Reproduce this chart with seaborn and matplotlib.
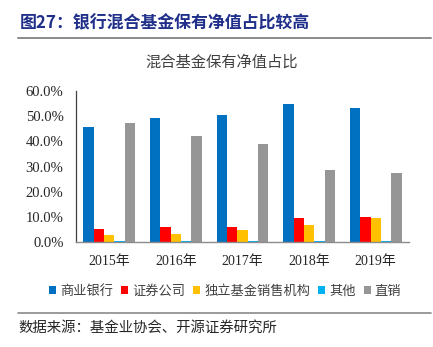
import matplotlib
matplotlib.use("Agg")
import matplotlib.pyplot as plt
import seaborn as sns
import pandas as pd
from matplotlib.patches import Patch
from matplotlib.lines import Line2D
from matplotlib.ticker import FuncFormatter, FixedLocator

years = ["2015年", "2016年", "2017年", "2018年", "2019年"]
channels = ["商业银行", "证券公司", "独立基金销售机构", "其他", "直销"]
bank = [45.7, 49.3, 50.5, 54.8, 53.1]
securities = [5.0, 5.8, 6.1, 9.5, 9.9]
independent = [2.6, 3.2, 4.6, 6.9, 9.5]
others = [0.3, 0.3, 0.3, 0.3, 0.3]
direct = [47.3, 42.3, 39.1, 28.8, 27.6]
colors = ["#0070C0", "#FF0000", "#FFC000", "#00B0F0", "#969696"]

series = [bank, securities, independent, others, direct]
rows = []
for ch, vals in zip(channels, series):
    for y, v in zip(years, vals):
        rows.append({"year": y, "channel": ch, "value": v / 100})
df = pd.DataFrame(rows)

sns.set_style("white")
plt.rcParams["font.family"] = ["Liberation Serif", "Noto Sans CJK SC", "DejaVu Sans"]
cjk = ["Noto Sans CJK SC", "DejaVu Sans"]

fig = plt.figure(figsize=(4.33, 3.47), dpi=100)
ax = fig.add_axes([76 / 433, 105 / 347, 333 / 433, 151 / 347])

sns.barplot(data=df, x="year", y="value", hue="channel", order=years,
            hue_order=channels, palette=colors, width=0.775, linewidth=0,
            saturation=1, ax=ax, legend=False)

ax.set_ylim(0, 0.6)
ax.set_xlim(-0.5, 4.5)
ax.yaxis.set_major_locator(FixedLocator([0, 0.1, 0.2, 0.3, 0.4, 0.5, 0.6]))
ax.yaxis.set_major_formatter(FuncFormatter(lambda v, p: f"{v*100:.1f}%"))
ax.set_xlabel("")
ax.set_ylabel("")
ax.xaxis.set_minor_locator(FixedLocator([0.5, 1.5, 2.5, 3.5, 4.5]))
ax.tick_params(axis="x", which="major", length=0, pad=9, labelsize=10, labelcolor="#262626")
ax.tick_params(axis="x", which="minor", direction="in", length=4, width=0.9, color="#404040")
ax.tick_params(axis="y", which="major", direction="in", length=4, width=0.9, color="#404040",
               pad=9, labelsize=10.5, labelcolor="#262626")
for lab in ax.get_xticklabels():
    lab.set_family(["Liberation Serif", "Noto Sans CJK SC"])
for s in ["top", "right"]:
    ax.spines[s].set_visible(False)
ax.spines["left"].set_color("#404040")
ax.spines["left"].set_linewidth(0.9)
ax.spines["bottom"].set_color("#8c8c8c")
ax.spines["bottom"].set_linewidth(1.0)

# Titles
fig.text(20 / 433, 1 - 23 / 347, "图27：银行混合基金保有净值占比较高", family=cjk,
         fontsize=12.2, fontweight="bold", color="#1F2F8A", ha="left", va="center")
fig.add_artist(Line2D([18 / 433, 431 / 433], [1 - 37.5 / 347] * 2, color="#8a8a8a", lw=1.4))
fig.text(222 / 433, 1 - 62 / 347, "混合基金保有净值占比", family=cjk,
         fontsize=11, color="#404040", ha="center", va="center")

handles = [Patch(facecolor=c, edgecolor="none") for c in colors]
fig.legend(handles, channels, loc="center", bbox_to_anchor=(225 / 433, 1 - 291 / 347),
           ncol=5, frameon=False, prop={"family": cjk, "size": 9.5},
           handlelength=0.55, handleheight=0.55, handletextpad=0.3,
           columnspacing=0.6, borderpad=0, labelcolor="#404040")

fig.add_artist(Line2D([18 / 433, 431 / 433], [1 - 313 / 347] * 2, color="#8a8a8a", lw=1.2))
fig.text(18 / 433, 1 - 328 / 347, "数据来源：基金业协会、开源证券研究所", family=cjk,
         fontsize=10.4, color="#262626", ha="left", va="center")

fig.savefig("out.png", dpi=100)
